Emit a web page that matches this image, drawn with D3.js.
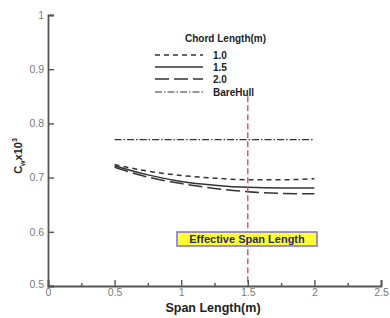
<!DOCTYPE html>
<html><head><meta charset="utf-8">
<script src="https://cdn.jsdelivr.net/npm/d3@7"></script>
<style>body{margin:0;background:#fff}svg{display:block;font-family:"Liberation Sans",Arial,sans-serif}</style>
</head><body><svg id="c" width="390" height="318"></svg>
<script>
const spans = [0.5, 0.75, 1.0, 1.25, 1.5, 1.75, 2.0];
const chord10 = [0.724, 0.712, 0.704, 0.699, 0.696, 0.696, 0.698];
const chord15 = [0.722, 0.705, 0.693, 0.686, 0.682, 0.681, 0.681];
const chord20 = [0.719, 0.701, 0.689, 0.680, 0.674, 0.671, 0.670];
const bareHull = [0.77, 0.77, 0.77, 0.77, 0.77, 0.77, 0.77];
const seriesNames = ["1.0", "1.5", "2.0", "BareHull"];
const xTicks = [0, 0.5, 1, 1.5, 2, 2.5];
const xMinor = [0.25, 0.75, 1.25, 1.75, 2.25];
const yTicks = [0.5, 0.6, 0.7, 0.8, 0.9, 1];
const effectiveSpan = 1.5;
const effTop = 0.85;

const svg = d3.select("#c");
const x = d3.scaleLinear().domain([0, 2.5]).range([48, 381]);
const y = d3.scaleLinear().domain([0.5, 1]).range([286, 15]);
const axisCol = "#555";

// series
const dashes = ["5,4", null, "14,5", "7,2,1.5,2"];
const data = [chord10, chord15, chord20, bareHull];
const line = d3.line().x((d,i)=>x(spans[i])).y(d=>y(d)).curve(d3.curveMonotoneX);
data.forEach((s,k)=>{
  svg.append("path").attr("d", line(s)).attr("fill","none")
    .attr("stroke","#333").attr("stroke-width", k===3?1.2:1.5)
    .attr("stroke-dasharray", dashes[k]);
});

// effective span line
svg.append("line").attr("x1",x(effectiveSpan)).attr("x2",x(effectiveSpan))
  .attr("y1",y(effTop)).attr("y2",y(0.5)).attr("stroke","#d9434f").attr("stroke-width",1.3)
  .attr("stroke-dasharray","6,3");

// axes
const gx = svg.append("g").attr("transform","translate(0,286)");
gx.call(d3.axisBottom(x).tickValues(xTicks).tickSize(-6).tickPadding(3).tickFormat(d=>d3.format("")(d)));
const gxm = svg.append("g").attr("transform","translate(0,286)");
gxm.call(d3.axisBottom(x).tickValues(xMinor).tickSize(-3).tickFormat(""));
gxm.select(".domain").remove();
const gy = svg.append("g").attr("transform","translate(48,0)");
gy.call(d3.axisLeft(y).tickValues(yTicks).tickSize(-6).tickPadding(4).tickFormat(d=>d3.format("")(d)));
[gx,gxm,gy].forEach(g=>{
  g.select(".domain").attr("stroke",axisCol).attr("stroke-width",1.8);
  g.selectAll(".tick line").attr("stroke",axisCol).attr("stroke-width",1.4);
  g.selectAll(".tick text").attr("fill","#7a7a7a").attr("font-size",10.5).attr("font-family","Liberation Sans, Arial, sans-serif");
});
gy.selectAll(".tick text").filter(d=>d===0.5).attr("dy","0.1em");

// legend
svg.append("text").attr("x",185).attr("y",42).attr("font-size",10).attr("font-weight","bold")
  .attr("fill","#222").text("Chord Length(m)");
const legY = [55, 67, 79, 92];
seriesNames.forEach((n,k)=>{
  svg.append("line").attr("x1",155).attr("x2",203).attr("y1",legY[k]).attr("y2",legY[k])
    .attr("stroke","#333").attr("stroke-width", k===3?1.2:1.5).attr("stroke-dasharray",dashes[k]);
  svg.append("text").attr("x",213).attr("y",legY[k]+3.5).attr("font-size",10).attr("font-weight","bold")
    .attr("fill","#222").text(n);
});

// effective span label
const bx = 177, bw = 140, byy = 232, bh = 14;
svg.append("rect").attr("x",bx).attr("y",byy).attr("width",bw).attr("height",bh)
  .attr("fill","#ffff33").attr("stroke","#7b6fd6").attr("stroke-width",1.5);
svg.append("text").attr("x",bx+bw/2).attr("y",byy+11).attr("text-anchor","middle")
  .attr("font-size",11).attr("font-weight","bold").attr("fill","#2a2a6a").text("Effective Span Length");

// axis titles
svg.append("text").attr("x",213).attr("y",312).attr("text-anchor","middle")
  .attr("font-size",12.5).attr("font-weight","bold").attr("fill","#222").text("Span Length(m)");
const yt = svg.append("text").attr("transform","translate(22,156) rotate(-90)").attr("text-anchor","middle")
  .attr("font-size",11).attr("font-weight","bold").attr("fill","#222");
yt.append("tspan").text("C");
yt.append("tspan").attr("font-size",7).attr("dy",3).text("w");
yt.append("tspan").attr("dy",-3).text("x10");
yt.append("tspan").attr("font-size",7).attr("dy",-5).text("3");
</script></body></html>
